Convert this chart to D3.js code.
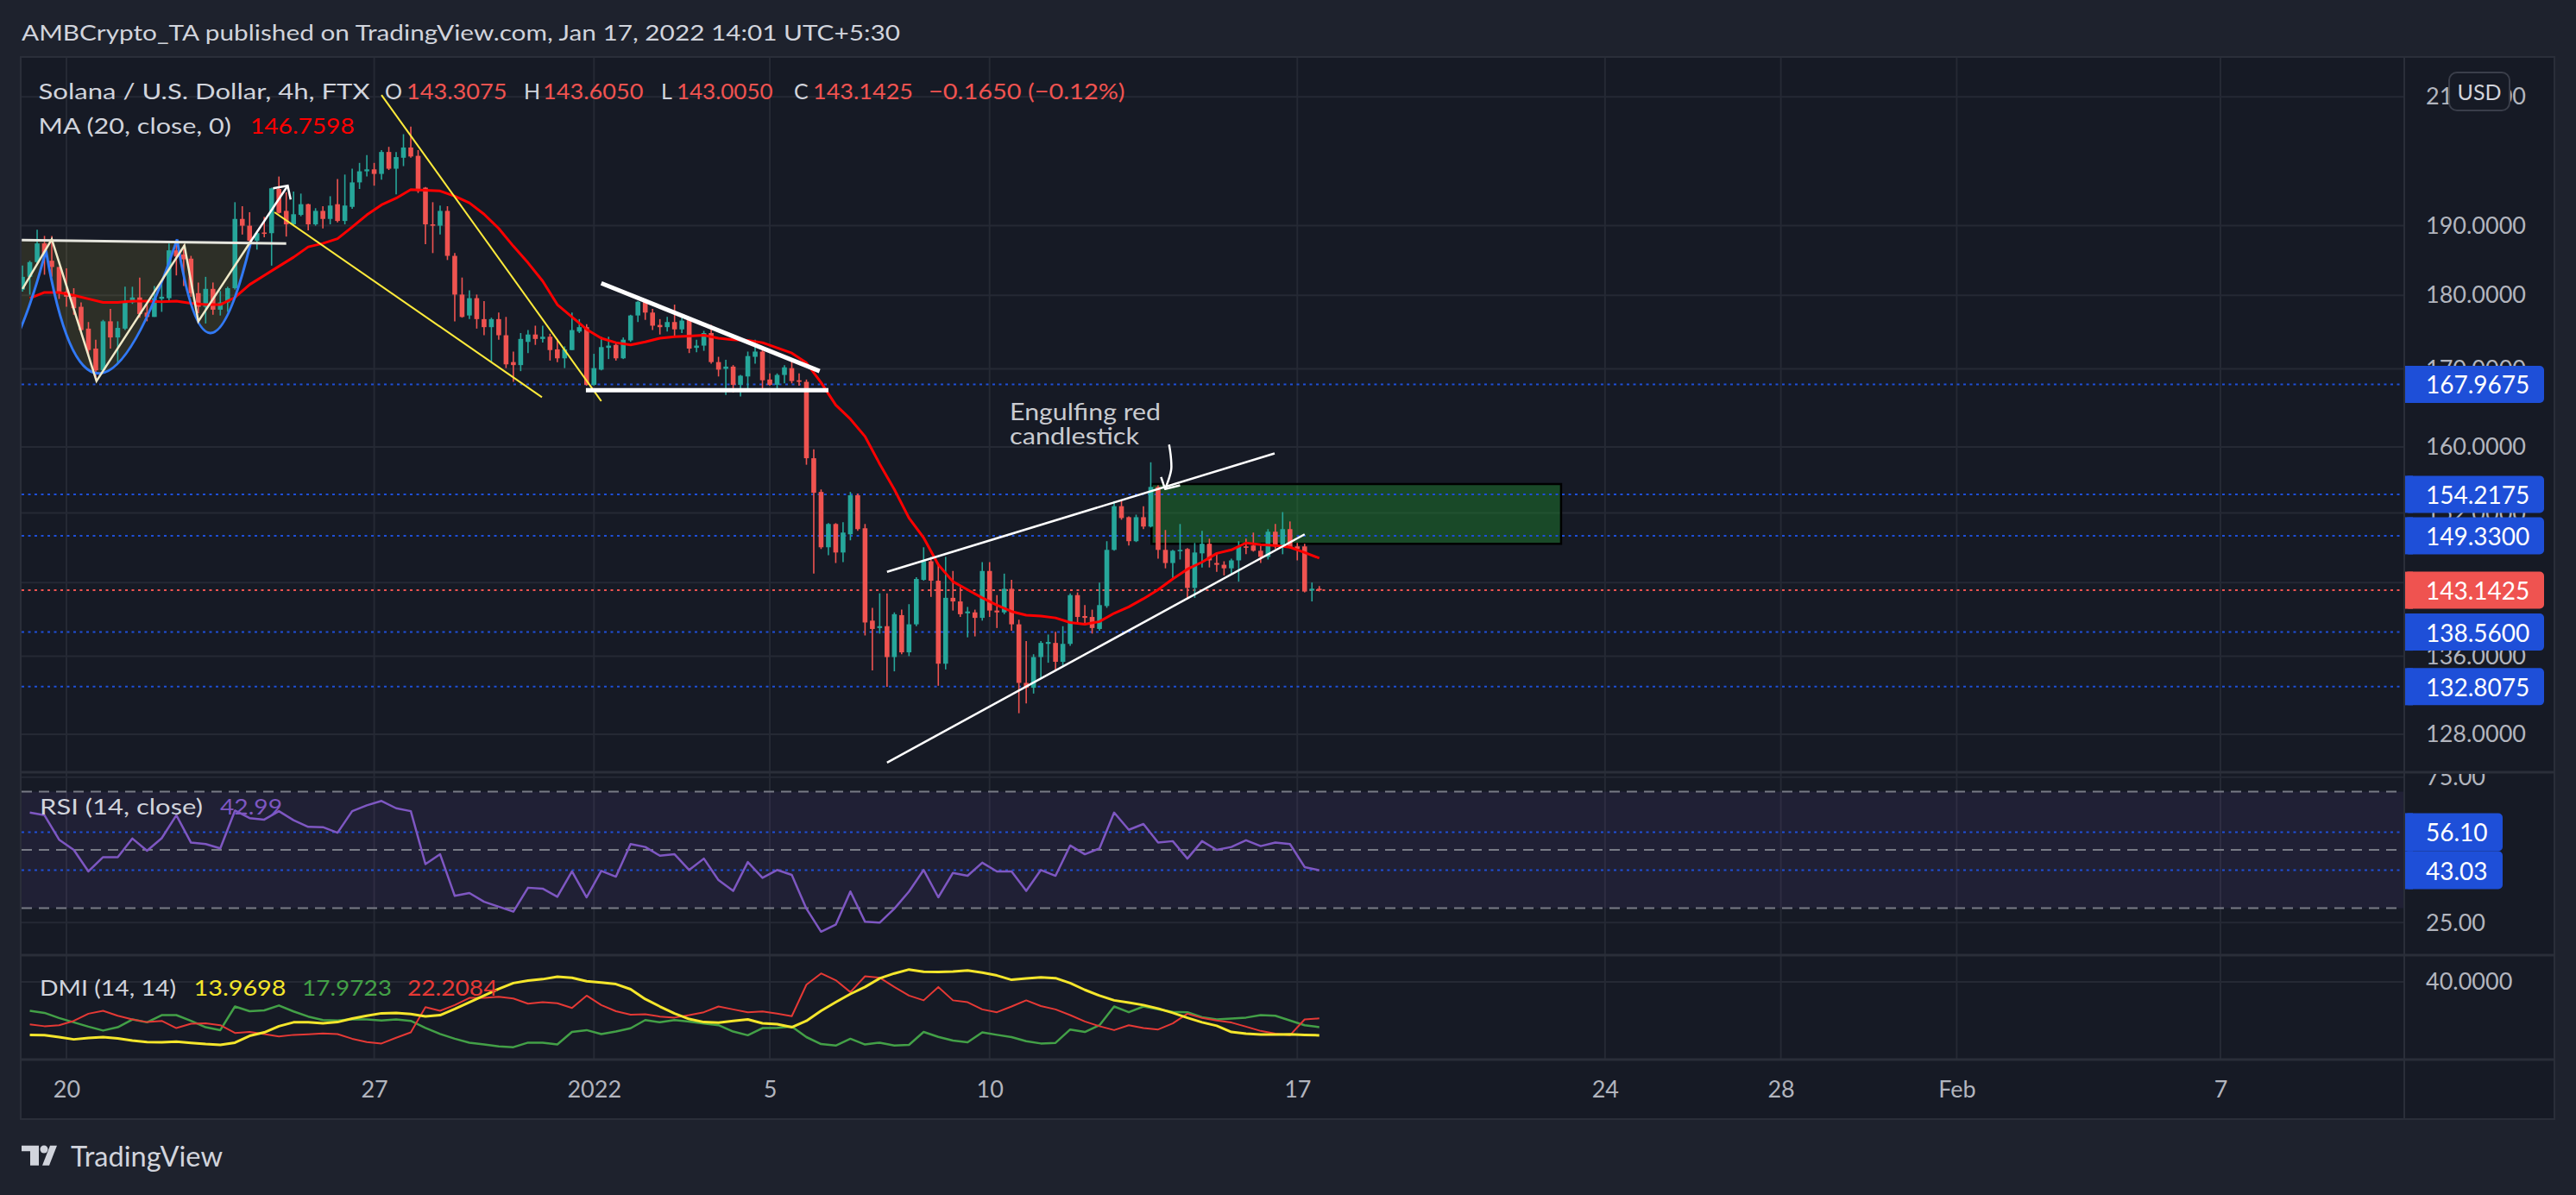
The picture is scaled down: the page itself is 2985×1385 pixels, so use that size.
<!DOCTYPE html>
<html lang="en">
<head>
<meta charset="utf-8">
<title>Solana / U.S. Dollar, 4h, FTX</title>
<style>
  body { margin: 0; background: #1e222d; }
  svg { display: block; font-family: Lato, "Open Sans", sans-serif; }
</style>
<script src="https://d3js.org/d3.v7.min.js"></script>
</head>
<body>
<script>
// 4h bars, first one opens 19 Dec 2021 00:00 ; [open, high, low, close]
const candles = [
  [180.8,184.2,180.5,182.6],[182.6,184.9,180.1,184.7],[184.7,189.4,184.5,187.4],[187.4,188.5,182.9,185.6],
  [184.9,188.5,182.6,184.0],[184.0,184.0,179.5,180.3],[180.5,183.8,178.4,179.8],[179.8,181.0,177.3,178.2],
  [178.4,179.0,174.8,175.2],[175.4,176.3,171.9,172.5],[172.7,173.9,168.6,169.8],[169.8,176.6,169.6,176.4],
  [176.4,178.1,172.7,174.2],[174.2,176.4,170.7,175.5],[175.4,181.2,175.2,179.0],[179.0,181.2,178.8,179.7],
  [179.7,182.5,176.9,177.4],[177.6,179.2,176.4,177.0],[177.0,181.3,177.0,179.6],[179.5,181.6,177.7,179.8],
  [179.6,187.4,179.2,186.4],[186.4,187.6,182.8,185.5],[185.8,187.2,181.3,185.1],[185.2,185.6,179.8,180.3],
  [180.3,181.8,177.5,178.4],[178.4,182.6,176.1,180.9],[180.9,181.8,177.3,178.0],[178.0,180.6,177.2,179.0],
  [179.0,181.2,177.7,181.0],[181.0,193.5,180.8,191.0],[191.0,192.9,188.7,190.0],[190.0,192.0,187.3,187.8],
  [187.8,189.1,186.5,188.9],[189.0,191.3,188.3,188.8],[188.9,195.7,184.2,195.6],[195.5,197.4,191.8,191.9],
  [192.2,195.0,188.4,190.2],[190.2,195.1,190.0,191.7],[191.6,194.8,191.4,193.2],[193.2,193.3,189.3,190.2],
  [190.2,192.6,190.0,192.2],[192.2,192.9,189.6,191.0],[191.0,194.4,190.2,193.0],[193.2,197.0,190.5,190.7],
  [190.7,197.7,190.2,193.0],[192.8,198.6,192.5,196.5],[196.5,199.5,195.5,198.2],[198.2,200.7,197.4,198.5],
  [198.5,199.5,196.0,197.8],[197.8,201.5,196.9,201.2],[201.2,202.0,198.4,198.6],[198.6,201.2,194.7,200.4],
  [200.3,204.0,199.0,201.9],[201.9,205.2,200.3,200.5],[200.6,201.5,194.9,195.2],[195.7,195.8,187.3,190.2],
  [190.2,193.5,186.0,190.0],[190.0,193.0,188.7,192.2],[192.2,192.9,185.0,185.6],[185.6,186.0,176.4,180.1],
  [180.1,182.5,176.9,177.0],[177.2,180.7,176.7,179.6],[179.6,180.1,175.4,176.7],[176.7,179.2,174.5,175.6],
  [175.6,176.9,170.9,176.7],[176.7,177.6,173.9,174.5],[174.5,177.0,170.1,170.6],[170.9,172.3,168.3,170.5],
  [170.5,174.8,169.7,174.0],[173.6,175.2,172.1,174.6],[174.6,175.8,173.2,174.0],[174.0,175.8,173.5,174.3],
  [174.3,174.7,171.1,172.5],[172.6,174.0,170.9,171.4],[171.4,173.0,170.1,172.6],[172.5,177.6,172.5,175.2],
  [175.0,176.7,174.8,175.6],[175.6,176.0,167.8,167.9],[167.9,172.0,167.8,170.1],[169.9,174.3,169.8,172.9],
  [172.8,174.3,171.3,173.1],[173.2,173.4,171.1,171.4],[171.4,174.2,171.3,173.9],[173.8,177.3,173.6,177.2],
  [177.2,179.2,176.3,179.1],[179.1,179.5,176.6,177.6],[177.6,178.1,175.2,175.8],[175.9,176.7,174.6,175.6],
  [175.6,177.0,175.0,176.3],[176.3,178.7,174.4,175.3],[175.3,177.0,174.8,176.5],[176.7,177.0,172.1,172.7],
  [172.8,173.9,172.2,173.1],[173.1,175.1,172.4,174.8],[174.8,175.9,170.7,170.9],[170.9,171.6,169.0,169.9],
  [170.0,171.2,166.6,170.3],[170.3,170.5,166.9,167.9],[167.9,169.2,166.4,169.1],[169.0,172.3,167.4,171.7],
  [171.6,173.9,170.7,172.3],[172.3,172.5,167.1,168.5],[168.6,169.4,167.8,167.9],[167.9,169.4,167.2,169.2],
  [169.2,170.5,168.1,170.2],[170.1,171.4,168.1,168.4],[168.5,169.4,167.8,168.3],[168.3,168.6,157.8,158.6],
  [158.6,159.7,145.0,154.4],[154.5,154.8,147.8,148.0],[148.0,150.8,147.1,150.7],[150.7,150.8,146.2,147.4],
  [147.4,150.9,146.3,149.7],[149.5,154.5,148.8,154.1],[154.1,154.3,149.9,150.1],[150.2,150.7,138.2,139.6],
  [139.8,141.2,134.5,138.9],[139.0,142.8,138.4,139.2],[139.2,142.8,132.8,135.9],[135.9,140.7,134.4,140.5],
  [140.4,141.0,136.2,136.4],[136.4,141.6,136.0,139.4],[139.4,144.6,139.2,144.4],[144.3,148.0,144.2,146.4],
  [146.4,146.9,142.4,144.2],[144.2,146.2,132.9,135.2],[135.2,146.9,134.6,142.3],[142.3,145.3,140.9,141.9],
  [141.9,143.5,140.2,140.5],[140.6,141.3,138.0,140.8],[140.7,141.0,138.1,140.1],[140.1,146.3,139.8,145.3],
  [145.3,146.3,140.2,140.9],[140.9,142.6,139.0,140.7],[140.7,145.0,140.5,143.3],[143.3,144.3,138.7,139.4],
  [139.4,139.9,130.1,133.2],[133.2,137.6,131.1,132.7],[132.7,136.2,132.1,135.9],[135.9,137.6,133.6,137.4],
  [137.3,138.3,135.3,137.5],[137.4,138.6,134.4,135.4],[135.4,139.2,135.0,137.3],[137.3,142.8,137.1,142.6],
  [142.6,142.9,139.5,140.2],[140.3,141.5,139.4,140.1],[140.2,141.0,138.4,139.0],[138.9,144.0,138.7,141.5],
  [141.4,148.7,141.2,147.7],[147.7,153.4,147.6,152.8],[152.8,153.4,151.2,151.4],[151.5,151.6,148.2,148.7],
  [148.7,151.8,148.6,151.5],[151.5,152.8,150.1,150.4],[150.4,158.1,150.3,155.1],[155.1,155.3,146.7,147.7],
  [147.7,150.0,145.6,146.2],[146.2,147.7,144.5,147.6],[147.6,150.7,146.6,147.7],[147.8,147.9,142.1,143.4],
  [143.4,148.5,142.3,147.4],[147.3,149.9,145.7,148.4],[148.4,149.0,145.7,146.5],[146.2,147.3,145.2,146.0],
  [146.0,146.4,144.8,145.6],[145.6,146.7,145.0,146.5],[146.5,148.7,144.1,148.1],[148.1,149.0,147.2,148.0],
  [148.2,149.7,147.5,147.6],[147.6,148.2,146.2,146.9],[146.9,150.1,146.6,149.8],[149.8,150.7,147.8,148.1],
  [148.1,152.1,147.2,150.1],[150.1,151.0,147.9,148.0],[148.1,148.5,146.5,147.8],[148.1,148.4,142.9,143.0],
  [143.1,144.0,141.9,143.3075],[143.3075,143.605,143.005,143.1425]
];

// indicator readings, one every second bar starting at bar 1
const maVals = [179.6,180.4,180.4,180.0,179.5,179.0,179.0,179.2,179.2,179.1,179.2,178.9,178.7,178.7,179.7,181.5,
  182.8,184.1,185.4,186.9,187.4,188.1,189.8,191.6,193.1,194.1,195.4,195.3,195.2,194.4,193.4,191.7,189.6,187.0,
  184.6,182.0,178.7,177.0,175.3,174.1,173.5,173.2,173.6,174.1,174.3,174.4,174.5,174.1,173.9,173.8,173.5,172.8,
  172.1,170.8,168.2,165.3,163.5,161.3,157.9,154.8,151.4,149.1,146.0,144.1,143.2,142.3,141.5,140.8,140.4,140.3,
  140.1,139.6,139.4,139.7,140.6,141.3,142.2,143.2,144.4,145.5,146.3,147.3,147.7,148.5,148.3,148.2,148.0,147.4,146.7598];
const rsiVals = [62.8,61.9,53.5,50.0,42.6,47.5,47.5,53.9,49.7,54.0,61.9,52.5,52.0,50.5,63.5,60.9,60.4,63.3,60.2,
  57.9,57.8,55.9,63.3,65.3,66.8,64.3,63.3,45.1,48.5,34.2,35.2,32.2,30.5,28.8,37.0,36.7,33.9,42.6,33.7,42.8,40.8,
  52.0,51.0,48.0,48.5,43.1,47.0,39.6,35.9,45.8,40.4,43.1,41.4,29.8,21.9,24.3,35.7,25.3,25.0,29.8,35.7,43.1,33.7,
  42.1,41.1,45.6,42.6,42.6,35.9,43.1,41.1,51.5,48.5,50.5,62.8,56.9,58.9,52.5,53.0,47.0,53.0,50.0,51.0,53.3,51.3,
  52.5,52.0,44.1,42.99];
const adxVals = [14.1,14.0,13.1,12.0,12.7,13.1,12.5,11.4,10.7,10.6,10.9,10.3,9.7,9.3,10.4,13.7,15.4,18.4,20.3,20.3,
  19.8,20.4,22.1,23.5,24.7,24.9,24.3,23.2,23.8,26.8,30.1,33.3,36.6,39.4,40.6,41.3,42.5,42.0,40.3,39.7,38.9,36.4,
  31.6,28.0,24.6,21.9,20.4,20.1,21.0,21.7,19.8,19.4,17.9,21.0,25.9,30.1,34.1,37.5,41.7,44.1,46.0,44.9,44.8,45.0,
  45.5,44.5,43.1,41.0,41.7,42.2,41.8,39.4,36.1,33.3,31.0,29.9,28.7,27.0,24.9,22.5,20.3,18.6,15.6,14.8,14.4,14.4,
  14.5,14.2,13.9698];
const plusDI = [25.9,24.9,22.4,20.3,18.2,16.3,17.9,21.7,20.3,23.8,23.8,21.0,17.9,16.5,28.0,25.7,26.1,28.5,25.6,23.1,
  21.4,21.2,21.8,21.7,21.2,21.7,21.0,17.6,14.6,12.3,10.4,9.5,8.6,8.2,10.4,10.4,9.5,15.6,16.5,14.6,15.8,17.4,21.4,
  20.3,21.4,20.7,19.7,18.9,15.8,14.0,17.5,17.6,18.2,13.1,9.7,9.0,12.3,9.5,10.4,9.0,9.3,15.6,13.2,11.4,10.6,15.4,
  14.2,13.1,11.1,10.0,10.3,16.8,15.6,18.9,28.0,25.2,28.0,26.6,25.4,25.2,22.8,21.7,22.1,22.6,23.8,23.5,21.2,18.9,17.9723];
const minusDI = [19.3,18.4,18.9,21.0,24.5,25.9,23.5,21.7,20.4,21.0,17.5,19.6,19.8,18.9,15.1,15.6,14.6,13.4,14.2,14.5,
  14.9,14.6,12.3,10.7,10.0,12.8,15.4,27.7,25.9,28.7,32.2,32.2,32.7,31.9,29.4,30.1,29.6,27.3,33.3,28.7,25.7,24.0,
  24.2,23.1,22.6,23.8,25.2,28.0,26.6,25.2,25.6,24.5,23.3,38.6,44.1,40.8,35.0,42.7,42.0,37.5,33.3,31.0,37.5,31.0,
  30.1,26.6,25.2,28.0,31.0,28.2,26.6,23.8,20.7,18.4,16.5,18.9,17.5,16.8,19.8,24.5,22.4,21.2,20.2,18.2,16.1,14.8,
  14.0,21.7,22.2084];

const priceTicks = [210, 190, 180, 170, 160, 152, 144, 136, 128];
const levelPrices = [167.9675, 154.2175, 149.33, 138.56, 132.8075];
const rsiLevels = [56.10, 43.03];
const timeTicks = [[2021,11,20,"20"],[2021,11,27,"27"],[2022,0,1,"2022"],[2022,0,5,"5"],[2022,0,10,"10"],
  [2022,0,17,"17"],[2022,0,24,"24"],[2022,0,28,"28"],[2022,1,1,"Feb"],[2022,1,7,"7"]];

// drawings, points are [bar index, price]
const neckline = [[-0.1,187.9],[36.0,187.4]];
const zigzag = [[0,180.9],[4.0,188.0],[10.1,168.4],[22.1,187.1],[24.0,176.4],[31.1,187.6]];
const breakArrow = [[31.1,187.6],[36.2,196.0]];
const breakHead = [[34.2,195.6],[36.2,196.0],[36.6,193.9]];
const arcs = [
  [[-14.7,186.4],[-5.8,169.0],[3.2,186.4]],
  [[3.2,186.4],[10.6,169.4],[21.1,188.0]],
  [[21.1,188.0],[25.6,174.8],[31.1,187.3]]
];
const yellowLines = [[[34.4,192.0],[70.9,166.3]], [[49.0,210.3],[79.0,165.8]]];
const triangle = [[[79.0,181.7],[108.8,169.7]], [[76.9,167.2],[110.0,167.2]]];
const wedge = [[[118.0,145.2],[170.9,159.2]], [[118.0,125.2],[175.0,149.5]]];
const zone = [[154.1,155.45],[210.0,148.4]];
const noteArrow = [[156.5,160.3],[156.7,159.1],[156.8,157.3],[156.4,155.9],[155.95,154.86]];
const noteHead = [[155.4,156.3],[155.95,154.86],[158.0,155.3]];
const note = {at: [134.75,163.4], lines: ["Engulfing red", "candlestick"]};

const W = 2985, H = 1385;
const paneL = 25, paneR = 2786;
const mainTop = 67, mainBot = 895, rsiBot = 1107, dmiBot = 1228, axisBot = 1297;
const up = "#26a69a", down = "#ef5350", blue = "#1e4fd8";

const t0 = Date.UTC(2021, 11, 19);
const barTime = i => new Date(t0 + i * 4 * 3600 * 1000);

const x = d3.scaleUtc()
    .domain([new Date(Date.UTC(2021,11,20)), new Date(Date.UTC(2022,1,7))])
    .range([77, 2573]);
const y = d3.scaleLog().domain([216.47, 124.27]).range([mainTop, mainBot]);
const yRsi = d3.scaleLinear().domain([76.67, 13.85]).range([mainBot, rsiBot]);
const yDmi = d3.scaleLinear().domain([53.0, 2.18]).range([rsiBot, dmiBot]);
const pt = d => [x(barTime(d[0])), y(d[1])];

const svg = d3.select("body").append("svg").attr("width", W).attr("height", H);

const defs = svg.append("defs");
[["clipMain", mainTop, mainBot], ["clipRsi", mainBot, rsiBot], ["clipDmi", rsiBot, dmiBot]].forEach(c => {
  defs.append("clipPath").attr("id", c[0]).append("rect")
      .attr("x", paneL).attr("y", c[1]).attr("width", paneR - paneL).attr("height", c[2] - c[1]);
});
defs.append("clipPath").attr("id", "clipRsiAxis").append("rect")
    .attr("x", paneR).attr("y", mainBot + 2).attr("width", 175).attr("height", rsiBot - mainBot - 2);

svg.append("rect").attr("width", W).attr("height", H).attr("fill", "#1e222d");
svg.append("rect").attr("x", 24).attr("y", 66).attr("width", 2936).attr("height", axisBot - 66)
    .attr("fill", "#161a25").attr("stroke", "#2a2e39").attr("stroke-width", 2);

function txt(g, xp, yp, s, size, fill, len) {
  const t = g.append("text").attr("x", xp).attr("y", yp).attr("font-size", size).attr("fill", fill).text(s);
  if (len) t.attr("textLength", len).attr("lengthAdjust", "spacingAndGlyphs");
  return t;
}

txt(svg, 25, 47, "AMBCrypto_TA published on TradingView.com, Jan 17, 2022 14:01 UTC+5:30", 25, "#d1d4dc", 1018);

// grid
const grid = svg.append("g").attr("stroke", "#252934").attr("stroke-width", 2);
grid.selectAll(".vg").data(timeTicks).join("line")
    .attr("x1", d => x(new Date(Date.UTC(d[0], d[1], d[2])))).attr("x2", d => x(new Date(Date.UTC(d[0], d[1], d[2]))))
    .attr("y1", mainTop).attr("y2", dmiBot);
grid.selectAll(".hg").data(priceTicks).join("line")
    .attr("x1", paneL).attr("x2", paneR).attr("y1", d => y(d)).attr("y2", d => y(d));
[[yRsi, 75], [yRsi, 25], [yDmi, 40]].forEach(g => {
  grid.append("line").attr("x1", paneL).attr("x2", paneR).attr("y1", g[0](g[1])).attr("y2", g[0](g[1]));
});

// ---------- main pane ----------
const main = svg.append("g").attr("clip-path", "url(#clipMain)");

function arcPath(closeToNeck) {
  const p = d3.path();
  arcs.forEach((a, k) => {
    const [s, v, e] = a.map(pt);
    if (k === 0) p.moveTo(s[0], s[1]);
    p.quadraticCurveTo(2 * v[0] - (s[0] + e[0]) / 2, 2 * v[1] - (s[1] + e[1]) / 2, e[0], e[1]);
  });
  if (closeToNeck) {
    const last = pt(arcs[2][2]), first = pt(arcs[0][0]);
    p.lineTo(last[0], y(neckline[1][1]));
    p.lineTo(first[0], y(neckline[0][1]));
    p.closePath();
  }
  return p.toString();
}

main.append("path").attr("d", arcPath(true)).attr("fill", "rgba(255,235,59,0.10)");

const zA = pt(zone[0]), zB = pt(zone[1]);
main.append("rect").attr("x", zA[0]).attr("y", zA[1]).attr("width", zB[0] - zA[0]).attr("height", zB[1] - zA[1])
    .attr("fill", "rgba(30,145,45,0.4)").attr("stroke", "#000").attr("stroke-width", 2.5);

main.selectAll(".lvl").data(levelPrices).join("line")
    .attr("x1", paneL).attr("x2", paneR).attr("y1", d => y(d)).attr("y2", d => y(d))
    .attr("stroke", blue).attr("stroke-width", 2).attr("stroke-dasharray", "3,4.5");
const lastC = candles[candles.length - 1][3];
main.append("line").attr("x1", paneL).attr("x2", paneR).attr("y1", y(lastC)).attr("y2", y(lastC))
    .attr("stroke", down).attr("stroke-width", 2).attr("stroke-dasharray", "3,4.5");

const cg = main.append("g");
cg.selectAll("line").data(candles).join("line")
    .attr("x1", (d, i) => x(barTime(i))).attr("x2", (d, i) => x(barTime(i)))
    .attr("y1", d => y(d[1])).attr("y2", d => y(d[2]))
    .attr("stroke", d => d[3] >= d[0] ? up : down).attr("stroke-width", 1.6);
cg.selectAll("rect").data(candles).join("rect")
    .attr("x", (d, i) => x(barTime(i)) - 2.8).attr("width", 5.6)
    .attr("y", d => y(Math.max(d[0], d[3])))
    .attr("height", d => Math.max(1.6, y(Math.min(d[0], d[3])) - y(Math.max(d[0], d[3]))))
    .attr("fill", d => d[3] >= d[0] ? up : down);

const indX = (d, j) => x(barTime(2 * j + 1));
main.append("path").datum(maVals)
    .attr("d", d3.line().x(indX).y(d => y(d)))
    .attr("fill", "none").attr("stroke", "#ff0000").attr("stroke-width", 3).attr("stroke-linejoin", "round");

const seg = d3.line().x(d => pt(d)[0]).y(d => pt(d)[1]);
main.append("path").attr("d", arcPath(false)).attr("fill", "none").attr("stroke", "#3179f5").attr("stroke-width", 3);
main.append("path").attr("d", seg(neckline)).attr("stroke", "#e6e6de").attr("stroke-width", 3);
main.append("path").attr("d", seg(zigzag)).attr("fill", "none").attr("stroke", "#efe9c8").attr("stroke-width", 2.5);
main.append("path").attr("d", seg(breakArrow)).attr("stroke", "#ffffff").attr("stroke-width", 2.5);
main.append("path").attr("d", seg(breakHead)).attr("fill", "none").attr("stroke", "#ffffff").attr("stroke-width", 2.5);
yellowLines.forEach(l => main.append("path").attr("d", seg(l)).attr("stroke", "#ffeb3b").attr("stroke-width", 2));
triangle.forEach(l => main.append("path").attr("d", seg(l)).attr("stroke", "#ffffff").attr("stroke-width", 5));
wedge.forEach(l => main.append("path").attr("d", seg(l)).attr("stroke", "#ffffff").attr("stroke-width", 2.5));
main.append("path").attr("d", d3.line().x(d => pt(d)[0]).y(d => pt(d)[1]).curve(d3.curveCatmullRom)(noteArrow))
    .attr("fill", "none").attr("stroke", "#ffffff").attr("stroke-width", 2.5);
main.append("path").attr("d", seg(noteHead)).attr("fill", "none").attr("stroke", "#ffffff").attr("stroke-width", 2.5)
    .attr("stroke-linejoin", "round");
const np = pt(note.at);
txt(main, np[0], np[1], note.lines[0], 27, "#c9cbd0", 175);
txt(main, np[0], np[1] + 28.5, note.lines[1], 27, "#c9cbd0", 150);

// legend
const prev = candles[candles.length - 2], last = candles[candles.length - 1];
const f4 = d3.format(".4f");
const chg = last[3] - prev[3];
const legRed = "#f05350";
txt(svg, 44.6, 115, "Solana / U.S. Dollar, 4h, FTX", 25, "#d1d4dc", 384);
[["O", 446, 471, last[0], 116.5], ["H", 607, 629, last[1], 116.5],
 ["L", 766, 784, last[2], 111.5], ["C", 920, 942, last[3], 116]].forEach(d => {
  txt(svg, d[1], 115, d[0], 25, "#d1d4dc");
  txt(svg, d[2], 115, f4(d[3]), 25, legRed, d[4]);
});
txt(svg, 1076, 115, (chg < 0 ? "\u2212" : "+") + f4(Math.abs(chg)) + " (" + (chg < 0 ? "\u2212" : "+")
    + d3.format(".2f")(Math.abs(chg / prev[3] * 100)) + "%)", 25, legRed, 227.6);
txt(svg, 44.6, 155, "MA (20, close, 0)", 25, "#d1d4dc", 223.4);
txt(svg, 290, 155, f4(maVals[maVals.length - 1]), 25, "#ff0000", 120.7);

// ---------- RSI pane ----------
const rsiG = svg.append("g").attr("clip-path", "url(#clipRsi)");
rsiG.append("rect").attr("x", paneL).attr("width", paneR - paneL)
    .attr("y", yRsi(70)).attr("height", yRsi(30) - yRsi(70)).attr("fill", "rgba(126,87,194,0.10)");
[70, 50, 30].forEach(v => rsiG.append("line").attr("x1", paneL).attr("x2", paneR).attr("y1", yRsi(v)).attr("y2", yRsi(v))
    .attr("stroke", "#787b86").attr("stroke-width", 2).attr("stroke-dasharray", "12,8"));
rsiLevels.forEach(v => rsiG.append("line").attr("x1", paneL).attr("x2", paneR).attr("y1", yRsi(v)).attr("y2", yRsi(v))
    .attr("stroke", blue).attr("stroke-width", 2).attr("stroke-dasharray", "3,4.5"));
rsiG.append("path").datum(rsiVals).attr("d", d3.line().x(indX).y(d => yRsi(d)))
    .attr("fill", "none").attr("stroke", "#7e57c2").attr("stroke-width", 2.5).attr("stroke-linejoin", "round");
txt(svg, 46, 944, "RSI (14, close)", 25, "#d1d4dc", 189);
txt(svg, 255, 944, d3.format(".2f")(rsiVals[rsiVals.length - 1]), 25, "#7e57c2", 72);

// ---------- DMI pane ----------
const dmiG = svg.append("g").attr("clip-path", "url(#clipDmi)");
[[plusDI, "#43a047", 2.5], [minusDI, "#e53935", 2], [adxVals, "#f5e62c", 3]].forEach(s => {
  dmiG.append("path").datum(s[0]).attr("d", d3.line().x(indX).y(d => yDmi(d)))
      .attr("fill", "none").attr("stroke", s[1]).attr("stroke-width", s[2]).attr("stroke-linejoin", "round");
});
txt(svg, 46, 1154, "DMI (14, 14)", 25, "#d1d4dc", 158);
txt(svg, 224.5, 1154, f4(adxVals[adxVals.length - 1]), 25, "#f5e62c", 107);
txt(svg, 350, 1154, f4(plusDI[plusDI.length - 1]), 25, "#43a047", 104);
txt(svg, 472, 1154, f4(minusDI[minusDI.length - 1]), 25, "#e53935", 104.5);

// ---------- axes ----------
function styleAxis(g) {
  g.select(".domain").remove();
  g.selectAll("text").attr("font-size", 27).attr("fill", "#b2b5be").attr("font-family", "Lato, 'Open Sans', sans-serif");
}
svg.append("g").attr("transform", `translate(${paneR},0)`)
    .call(d3.axisRight(y).tickValues(priceTicks).tickFormat(d3.format(".4f")).tickSize(0).tickPadding(25))
    .call(styleAxis);
svg.append("g").attr("clip-path", "url(#clipRsiAxis)")
  .append("g").attr("transform", `translate(${paneR},0)`)
    .call(d3.axisRight(yRsi).tickValues([75, 25]).tickFormat(d3.format(".2f")).tickSize(0).tickPadding(25))
    .call(styleAxis);
svg.append("g").attr("transform", `translate(${paneR},0)`)
    .call(d3.axisRight(yDmi).tickValues([40]).tickFormat(d3.format(".4f")).tickSize(0).tickPadding(25))
    .call(styleAxis);
svg.append("g").attr("transform", `translate(0,${dmiBot})`)
    .call(d3.axisBottom(x).tickValues(timeTicks.map(d => new Date(Date.UTC(d[0], d[1], d[2]))))
      .tickFormat((d, i) => timeTicks[i][3]).tickSize(0).tickPadding(25))
    .call(styleAxis);

function axisLabel(yc, s, fill, w, h) {
  const g = svg.append("g");
  g.append("rect").attr("x", paneR).attr("y", yc - h / 2).attr("width", w).attr("height", h).attr("rx", 5).attr("fill", fill);
  g.append("rect").attr("x", paneR).attr("y", yc - h / 2).attr("width", 10).attr("height", h).attr("fill", fill);
  g.append("text").attr("x", paneR + 25).attr("y", yc).attr("dominant-baseline", "central")
      .attr("font-size", 28).attr("fill", "#ffffff").text(s);
}
levelPrices.forEach(p => axisLabel(y(p), f4(p), blue, 162, 43));
axisLabel(y(lastC), f4(lastC), down, 162, 43);
rsiLevels.forEach(v => axisLabel(yRsi(v), d3.format(".2f")(v), blue, 114, 44));

svg.append("rect").attr("x", 2838).attr("y", 84).attr("width", 70).attr("height", 44).attr("rx", 9)
    .attr("fill", "#161a25").attr("stroke", "#3a3e4a").attr("stroke-width", 2);
svg.append("text").attr("x", 2873).attr("y", 106).attr("text-anchor", "middle").attr("dominant-baseline", "central")
    .attr("font-size", 25).attr("fill", "#d1d4dc").text("USD");

// pane separators
const sep = svg.append("g").attr("stroke", "#2a2e39");
[mainBot, rsiBot, dmiBot].forEach(v => sep.append("line").attr("x1", 24).attr("x2", 2960).attr("y1", v).attr("y2", v).attr("stroke-width", 3));
sep.append("line").attr("x1", paneR).attr("x2", paneR).attr("y1", 66).attr("y2", axisBot).attr("stroke-width", 2);

// footer logo
const logo = svg.append("g").attr("fill", "#d1d4dc");
logo.append("path").attr("d", "M25,1327.7H45V1350.7H35V1334.3H25Z");
logo.append("circle").attr("cx", 51).attr("cy", 1332).attr("r", 4.5);
logo.append("path").attr("d", "M58,1327.7H66L57,1350.7H49Z");
txt(svg, 82, 1352, "TradingView", 32, "#d1d4dc", 176);
</script>
</body>
</html>
